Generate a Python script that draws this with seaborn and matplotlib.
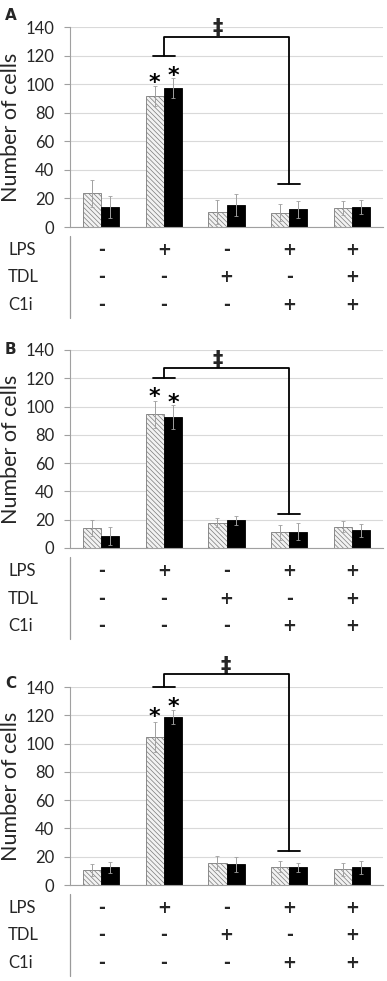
import pandas as pd
import seaborn as sns
import matplotlib.pyplot as plt
from matplotlib.lines import Line2D
from matplotlib.transforms import offset_copy

# treatment conditions for the five groups
groups = ['g1', 'g2', 'g3', 'g4', 'g5']
lps = ['-', '+', '-', '+', '+']
tdl = ['-', '-', '+', '-', '+']
c1i = ['-', '-', '-', '+', '+']
series = ['hatched', 'solid']

# panel A
a_hatched = [23.5, 92, 10.5, 10, 13.5]
a_hatched_err = [9.5, 7, 8.5, 6, 5]
a_solid = [14, 97, 15.5, 12.5, 14]
a_solid_err = [8, 7, 7.5, 6, 5]

# panel B
b_hatched = [14, 94.5, 18, 11, 15]
b_hatched_err = [5.5, 9.5, 3, 5, 4]
b_solid = [8.5, 92.5, 19.5, 11.5, 12.5]
b_solid_err = [6.5, 8.5, 3, 6, 4.5]

# panel C
c_hatched = [10.5, 104.5, 15.5, 13, 11]
c_hatched_err = [4, 10.5, 5, 4, 4.5]
c_solid = [12.5, 118.5, 14.5, 12.5, 12.5]
c_solid_err = [4, 5, 5, 3, 4.5]

# significance bracket levels: top, left foot, right foot, dagger x, dagger y
a_bracket = [133, 120, 30, 1.86, 139]
b_bracket = [127, 120, 24, 1.86, 133]
c_bracket = [149, 140, 24, 1.98, 155]
# asterisk heights (hatched, solid)
a_star = [105, 110]
b_star = [111, 107]
c_star = [123, 130]

panels = [
    ('A', a_hatched, a_hatched_err, a_solid, a_solid_err, a_bracket, a_star, 27, 227, 15),
    ('B', b_hatched, b_hatched_err, b_solid, b_solid_err, b_bracket, b_star, 350, 548, 350),
    ('C', c_hatched, c_hatched_err, c_solid, c_solid_err, c_bracket, c_star, 687, 885, 683),
]

sns.set_style('white')
plt.rcParams['font.family'] = ['Lato', 'DejaVu Sans']
plt.rcParams['hatch.linewidth'] = 0.5

W, H = 387, 981
fig = plt.figure(figsize=(W / 100, H / 100), dpi=100)

left_px, right_px = 70, 383
for letter, hv, he, sv, se, br, st, top_px, bot_px, letter_y in panels:
    ax = fig.add_axes([left_px / W, 1 - bot_px / H,
                       (right_px - left_px) / W, (bot_px - top_px) / H])
    df = pd.DataFrame({
        'group': groups * 2,
        'series': [series[0]] * 5 + [series[1]] * 5,
        'value': hv + sv,
    })
    sns.barplot(data=df, x='group', y='value', hue='series', order=groups,
                hue_order=series, width=0.58, gap=0, errorbar=None,
                legend=False, ax=ax, zorder=2)

    errs = [he, se]
    star_tr = offset_copy(ax.transData, fig=fig, y=-6, units='dots')
    bar_sets = list(ax.containers)
    for i, cont in enumerate(bar_sets):
        xs, ys = [], []
        for p in cont.patches:
            if i == 0:
                p.set_facecolor('#f2f2f2')
                p.set_edgecolor('#7a7a7a')
                p.set_hatch('\\' * 7)
            else:
                p.set_facecolor('black')
                p.set_edgecolor('black')
            p.set_linewidth(0.6)
            xs.append(p.get_x() + p.get_width() / 2)
            ys.append(p.get_height())
        ax.errorbar(xs, ys, yerr=errs[i], fmt='none', ecolor='#a0a0a0',
                    elinewidth=0.7, capsize=1.5, capthick=0.6, zorder=3)
        # asterisk over the LPS-only group
        ax.text(xs[1], st[i], '*', ha='center', va='center', fontsize=16,
                fontweight='bold', family='DejaVu Sans', color='black',
                zorder=4, transform=star_tr)

    # significance bracket
    top, lfoot, rfoot, dx, dy = br
    kw = dict(color='black', lw=1.3, clip_on=False, zorder=5)
    ax.plot([1, 1, 3, 3], [lfoot, top, top, rfoot], **kw)
    ax.plot([0.82, 1.18], [lfoot, lfoot], **kw)
    ax.plot([2.82, 3.18], [rfoot, rfoot], **kw)
    ax.text(dx, dy, '\u2021', ha='center', va='center', fontsize=15,
            fontweight='bold', family='DejaVu Sans', clip_on=False)

    ax.set_ylim(0, 140)
    ax.set_xlim(-0.5, 4.5)
    ax.set_yticks(range(0, 141, 20))
    ax.tick_params(axis='y', labelsize=12, length=4.5, width=0.8,
                   color='#a0a0a0', pad=7, left=True)
    ax.set_xticks([])
    ax.set_xlabel('')
    ax.set_ylabel('Number of cells', fontsize=15.5, labelpad=3)
    ax.yaxis.grid(True, color='#d9d9d9', lw=0.8, zorder=0)
    ax.set_axisbelow(True)
    for s in ['top', 'right']:
        ax.spines[s].set_visible(False)
    for s in ['left', 'bottom']:
        ax.spines[s].set_color('#a0a0a0')
        ax.spines[s].set_linewidth(0.8)

    # treatment table under the axis
    h_px = bot_px - top_px
    for row, (name, marks) in enumerate(zip(['LPS', 'TDL', 'C1i'], [lps, tdl, c1i])):
        y = -(23 + row * 27.5) / h_px
        fig.text(8 / W, 1 - (bot_px + 23 + row * 27.5) / H, name,
                 ha='left', va='center', fontsize=12)
        for j, m in enumerate(marks):
            ax.text(j, y, m, transform=ax.get_xaxis_transform(),
                    ha='center', va='center', fontsize=12, fontweight='bold',
                    family='DejaVu Sans')
    fig.add_artist(Line2D([left_px / W, left_px / W],
                          [1 - (bot_px + 9) / H, 1 - (bot_px + 91) / H],
                          color='#9a9a9a', lw=0.9))

    fig.text(5 / W, 1 - letter_y / H, letter, ha='left', va='center',
             fontsize=11, fontweight='bold', family='DejaVu Sans')

fig.savefig('out.png', dpi=100)
